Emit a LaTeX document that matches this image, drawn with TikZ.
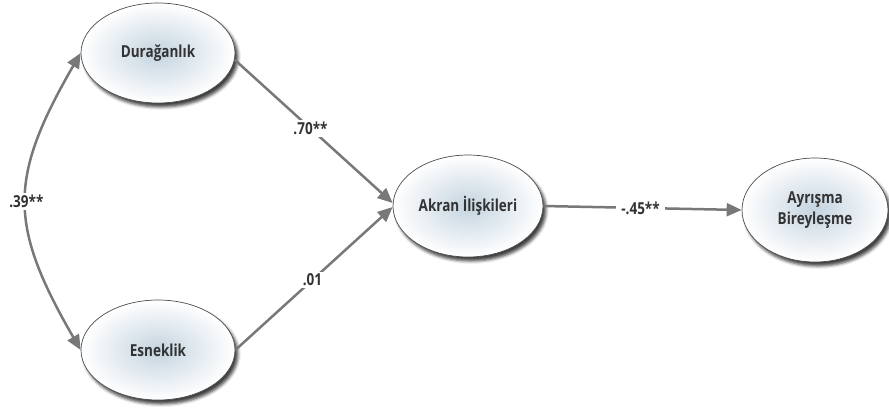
\documentclass[tikz,border=0pt]{standalone}
\usepackage{fontspec}
\newfontfamily\lblfont{Open Sans}[FakeStretch=0.82]
\usetikzlibrary{arrows.meta,shapes.geometric,shadows.blur}
\definecolor{ovalin}{RGB}{196,212,224}
\definecolor{ovaltext}{RGB}{51,51,51}
\definecolor{pathgray}{RGB}{120,120,120}
\begin{document}
\begin{tikzpicture}[x=1pt,y=1pt,
    latent/.style={ellipse, draw=black!70, line width=0.7pt, inner sep=0pt,
        minimum width=150pt, minimum height=102pt,
        shading=radial, inner color=ovalin, outer color=white,
        blur shadow={shadow xshift=3pt, shadow yshift=-4pt, shadow blur radius=3pt, shadow opacity=75},
        font=\lblfont\bfseries\fontsize{16.5}{21}\selectfont, text=ovaltext, align=center},
    path/.style={draw=pathgray, line width=2.5pt, -{Triangle[length=15pt,width=13pt]}},
    coef/.style={fill=white, inner xsep=5pt, inner ysep=2pt, font=\lblfont\bfseries\fontsize{16.5}{20}\selectfont, text=ovaltext}]
    \useasboundingbox (0,0) rectangle (889,-416);

    % Latent variables
    \node[latent, minimum width=154pt, minimum height=100pt] (dur) at (158,-53) {Durağanlık};
    \node[latent, minimum width=154pt, minimum height=100pt] (esn) at (158,-350) {Esneklik};
    \node[latent] (akr) at (468,-206) {Akran İlişkileri};
    \node[latent, minimum width=146pt, minimum height=104pt] (ayr) at (815,-210) {Ayrışma\\Bireyleşme};

    % Paths
    \draw[path] (dur.-5) -- node[coef, pos=0.48] (c70) {.70**} ([yshift=3pt]akr.west);
    \draw[path] (esn.east) -- node[coef, pos=0.49] (c01) {.01} ([yshift=-1pt]akr.west);
    \draw[path] (akr.east) -- node[coef, pos=0.49] (c45) {-.45**} (ayr.west);

    % Correlation
    \draw[path, {Triangle[length=15pt,width=13pt]}-{Triangle[length=15pt,width=13pt]}]
        (dur.west) to[out=240, in=120, looseness=1.25] node[coef, inner xsep=2pt] (c39) {.39**} (esn.west);
\end{tikzpicture}
\end{document}
